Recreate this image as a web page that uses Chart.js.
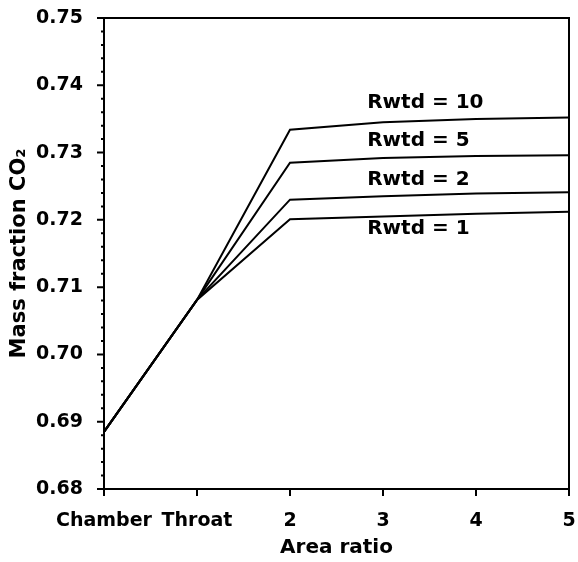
<!DOCTYPE html>
<html>
<head>
<meta charset="utf-8">
<script src="https://cdn.jsdelivr.net/npm/chart.js@4"></script>
<style>
  html, body { margin: 0; padding: 0; background: #fff; }
</style>
</head>
<body>
<canvas id="co2Chart" width="578" height="562"></canvas>
<script>
// area ratio positions and their tick labels
const xValues = [0, 1, 2, 3, 4, 5];
const xTickLabels = ['Chamber', 'Throat', '2', '3', '4', '5'];

// mass fraction CO2 for each Rwtd
const rwtd10 = [0.6885, 0.7081, 0.7334, 0.7345, 0.7350, 0.7352];
const rwtd5 = [0.6885, 0.7081, 0.7285, 0.7292, 0.7295, 0.7296];
const rwtd2 = [0.6885, 0.7081, 0.7230, 0.7235, 0.7239, 0.7241];
const rwtd1 = [0.6885, 0.7081, 0.7201, 0.7205, 0.7209, 0.7212];

const seriesNames = ['Rwtd = 10', 'Rwtd = 5', 'Rwtd = 2', 'Rwtd = 1'];
const seriesValues = [rwtd10, rwtd5, rwtd2, rwtd1];

// where the curve names sit, in data units
const labelX = [2.83, 2.83, 2.83, 2.83];
const labelY = [0.7374, 0.7318, 0.7260, 0.7186];

const yMin = 0.68;
const yMax = 0.75;

const fontFamily = '"DejaVu Sans", sans-serif';

// box round the plot and the tick marks
const frame = {
  id: 'frame',
  afterDraw(chart) {
    const { ctx, chartArea: a } = chart;
    const x = chart.scales.x;
    const y = chart.scales.y;
    ctx.save();
    ctx.strokeStyle = '#000';
    ctx.lineWidth = 2;
    ctx.beginPath();
    ctx.rect(a.left, a.top, a.right - a.left, a.bottom - a.top);
    y.ticks.forEach(t => {
      const py = y.getPixelForValue(t.value);
      const major = Math.round(t.value * 1000) % 10 === 0;
      ctx.moveTo(a.left - (major ? 7 : 3), py);
      ctx.lineTo(a.left + (major ? 0 : 1), py);
    });
    x.ticks.forEach(t => {
      const px = x.getPixelForValue(t.value);
      ctx.moveTo(px, a.bottom);
      ctx.lineTo(px, a.bottom + 7);
    });
    ctx.stroke();
    ctx.restore();
  }
};

// names written next to each curve
const curveNames = {
  id: 'curveNames',
  afterDatasetsDraw(chart) {
    const { ctx } = chart;
    const x = chart.scales.x;
    const y = chart.scales.y;
    ctx.save();
    ctx.fillStyle = '#000';
    ctx.font = 'bold 20px ' + fontFamily;
    ctx.textAlign = 'left';
    ctx.textBaseline = 'middle';
    seriesNames.forEach((name, i) => {
      ctx.fillText(name, x.getPixelForValue(labelX[i]), y.getPixelForValue(labelY[i]));
    });
    ctx.restore();
  }
};

// keep the plot box where it is, labels may overflow it
function noOverflow(s) {
  s.paddingTop = 0;
  s.paddingBottom = 0;
  s.paddingLeft = 0;
  s.paddingRight = 0;
}

const ctx = document.getElementById('co2Chart');

new Chart(ctx, {
  type: 'line',
  data: {
    datasets: seriesValues.map((vals, i) => ({
      label: seriesNames[i],
      data: xValues.map((xv, j) => ({ x: xv, y: vals[j] })),
      borderColor: '#000',
      borderWidth: 2,
      pointRadius: 0,
      tension: 0,
      fill: false
    }))
  },
  options: {
    responsive: false,
    animation: false,
    layout: { padding: { top: 18, right: 9, left: 0, bottom: 0 } },
    plugins: {
      legend: { display: false },
      tooltip: { enabled: false }
    },
    scales: {
      x: {
        type: 'linear',
        min: 0,
        max: 5,
        grid: { display: false },
        border: { display: false },
        ticks: {
          stepSize: 1,
          color: '#000',
          padding: 13,
          maxRotation: 0,
          autoSkip: false,
          font: { family: fontFamily, size: 19, weight: 'bold' },
          callback: v => xTickLabels[v]
        },
        title: {
          display: true,
          text: 'Area ratio',
          color: '#000',
          padding: { top: 0, bottom: 2 },
          font: { family: fontFamily, size: 20, weight: 'bold' }
        },
        afterFit: s => { s.height = 73; noOverflow(s); }
      },
      y: {
        min: yMin,
        max: yMax,
        grid: { display: false },
        border: { display: false },
        ticks: {
          stepSize: 0.002,
          autoSkip: false,
          color: '#000',
          padding: 13,
          font: { family: fontFamily, size: 19, weight: 'bold' },
          callback: v => Math.round(v * 1000) % 10 === 0 ? v.toFixed(2) : ''
        },
        title: {
          display: true,
          text: 'Mass fraction CO₂',
          color: '#000',
          padding: { top: 7, bottom: 0 },
          font: { family: fontFamily, size: 21, weight: 'bold' }
        },
        afterFit: s => { s.width = 104; noOverflow(s); }
      }
    }
  },
  plugins: [frame, curveNames]
});
</script>
</body>
</html>
